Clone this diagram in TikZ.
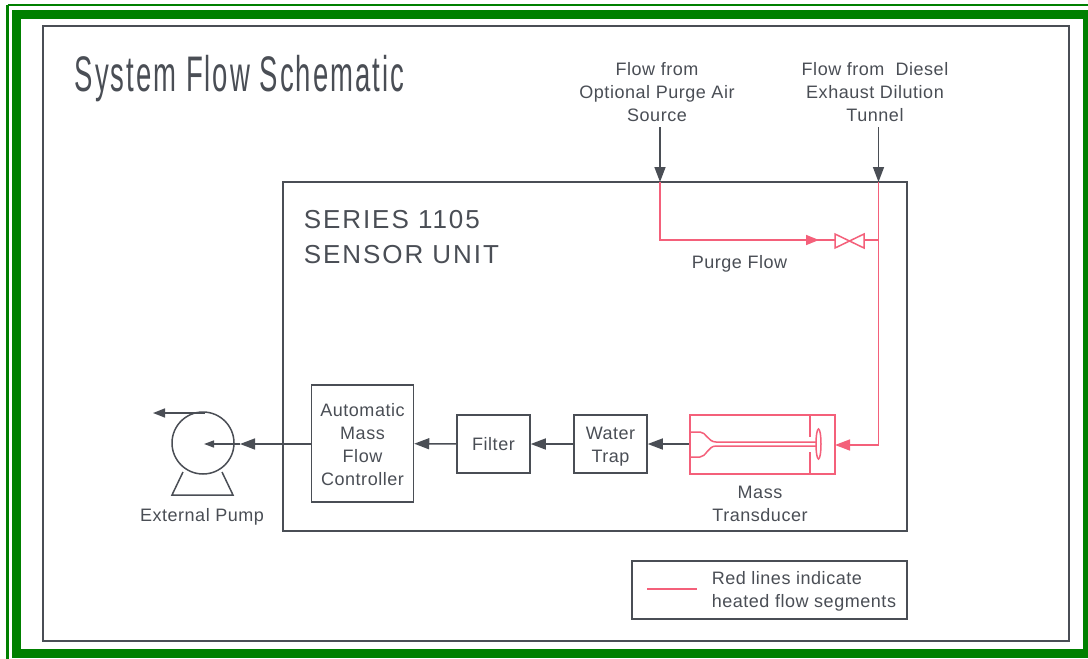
\documentclass[tikz,border=0pt]{standalone}
\usepackage{fontspec}
\setmainfont[LetterSpace=3]{Liberation Sans}
\newfontfamily\titlefont[FakeStretch=0.55,LetterSpace=4]{Liberation Sans}
\newfontfamily\unitfont[LetterSpace=7.5]{Liberation Sans}
\usetikzlibrary{arrows.meta}
\definecolor{myGreen}{HTML}{008000}
\definecolor{myGray}{HTML}{4a4e55}
\definecolor{myRed}{HTML}{f4607a}

\begin{document}
\begin{tikzpicture}[x=1pt, y=-1pt, line width=1.5pt, myGray,
    >={Triangle[length=15pt,width=11pt]}]
  \tikzstyle{T}=[text=myGray, font=\fontsize{18}{23}\selectfont, align=center, inner sep=0pt]
  \tikzstyle{Box}=[draw=myGray, T, inner sep=0pt]
  \tikzstyle{H}=[draw=myRed, color=myRed]

  \useasboundingbox (0,0) rectangle (1088,659);
  \fill[white] (0,0) rectangle (1088,659);

  % green frames
  \draw[myGreen, line width=2.5pt] (7.5,5) -- (1088,5) (7.5,5) -- (7.5,659);
  \draw[myGreen, line width=9pt] (16,14.5) rectangle (1087,653);
  \draw[line width=2pt] (43,26) rectangle (1069,641);

  \node[T, font=\titlefont\fontsize{50}{60}\selectfont, anchor=west] at (74,79) (Title) {System Flow Schematic};

  \node[Box, minimum width=624pt, minimum height=349pt] at (595,356.5) (Unit) {};
  \node[T, font=\unitfont\fontsize{26}{35}\selectfont, align=left, anchor=west] at (303,237) (UnitText) {SERIES 1105\\SENSOR UNIT};

  \node[Box, minimum width=102pt, minimum height=117pt] at (362.5,443.5) (Ctrl) {\rule{0pt}{15pt}Automatic\\Mass\\Flow\\Controller};
  \node[Box, minimum width=73pt, minimum height=58pt] at (493.5,444) (Filter) {Filter};
  \node[Box, minimum width=73pt, minimum height=58pt] at (610.5,444) (Trap) {\rule{0pt}{17pt}Water\\Trap};
  \node[draw=myRed, minimum width=145pt, minimum height=59pt, inner sep=0pt] at (762.5,444.5) (Mass) {};
  \node[T] at (760,503.5) (MassText) {Mass\\Transducer};

  % transducer inside
  \draw[H] (810,415) -- (810,437) (810,452) -- (810,474);
  \draw[H] (690,432) -- (700,432) .. controls (706,432) and (708,442) .. (716,442) -- (816,442);
  \draw[H] (690,457) -- (700,457) .. controls (706,457) and (708,446) .. (716,446) -- (816,446);
  \draw[H] (818.5,444) ellipse (2.5 and 15);

  % pump
  \node[draw=myGray, circle, minimum size=62pt, inner sep=0pt] at (203,443) (Pump) {};
  \draw (183,472) -- (172,495) -- (233,495) -- (222,472);
  \node[T] at (202,517) (PumpText) {External Pump};
  \coordinate (PumpOut) at (153,413);
  \coordinate (PumpTop) at (205,413);
  \coordinate (PumpIn) at (240,444);
  \coordinate (PumpC) at (204,444);

  \draw [<-] (Filter) to (Trap);
  \draw [<-] (Ctrl) to (Filter);
  \draw [<-] (Trap.east) to (Trap.east -| Mass.west);
  \draw [<-] (PumpIn) to (PumpIn -| Ctrl.west);
  \draw [-{Triangle[length=10pt,width=7pt]}] (PumpIn) to (PumpC);
  \draw [-{Triangle[length=12pt,width=9pt]}] (PumpTop) to (PumpOut);

  % flows in
  \node[T] at (657,92) (Purge) {Flow from\\Optional Purge Air\\Source};
  \node[T] at (875,92) (Tunnel) {Flow from\ \ Diesel\\Exhaust Dilution\\Tunnel};
  \coordinate (PurgeIn) at (660,182);
  \coordinate (TunnelIn) at (878.5,182);
  \coordinate (PurgeTop) at (660,127);
  \coordinate (TunnelTop) at (878.5,127);
  \draw [->] (PurgeTop) to (PurgeIn);
  \draw [->] (TunnelTop) to (TunnelIn);

  % heated lines
  \coordinate (PurgeTurn) at (660,240);
  \coordinate (PurgeTip) at (819,240);
  \coordinate (ValveL) at (835,240);
  \coordinate (ValveR) at (864,240);
  \coordinate (TunnelTee) at (878.5,240);
  \coordinate (TunnelTurn) at (878.5,445);
  \coordinate (MassIn) at (835,445);
  \draw[H] (PurgeIn) -- (PurgeTurn) -- (ValveL);
  \draw[H, -{Triangle[length=13pt,width=10pt]}] (PurgeTurn) -- (PurgeTip);
  \draw[H] (835,234) -- (864,248) -- (864,234) -- (835,248) -- cycle;
  \draw[H] (ValveR) -- (TunnelTee);
  \draw[H] (TunnelIn) -- (TunnelTurn);
  \draw[H, ->] (TunnelTurn) -- (MassIn);
  \node[T] at (739.5,264) (PurgeText) {Purge Flow};

  % key
  \node[Box, minimum width=275pt, minimum height=58pt] at (769.5,590) (Key) {};
  \coordinate (KeyL) at (647,589);
  \coordinate (KeyR) at (697,589);
  \draw[H] (KeyL) -- (KeyR);
  \node[T, align=left, anchor=west] at (711,591) (KeyText) {Red lines indicate\\heated flow segments};
\end{tikzpicture}
\end{document}
